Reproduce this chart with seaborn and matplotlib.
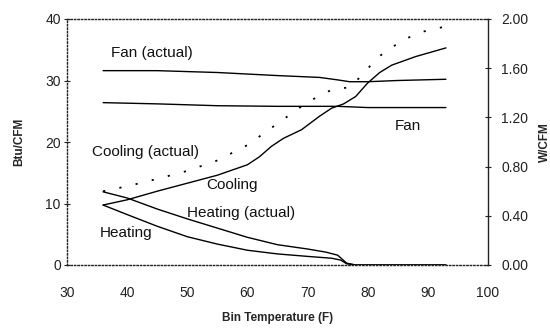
import matplotlib
matplotlib.use("Agg")
import matplotlib.pyplot as plt
import seaborn as sns

sns.set_theme(style="white")
plt.rcParams['font.family'] = ['Liberation Sans', 'DejaVu Sans']

# Left axis (Btu/CFM)
cool_x = [36, 40, 45, 50, 55, 60, 62, 64, 66, 69, 72, 74, 76, 78, 80, 82, 84, 88, 93]
cool_y = [9.75, 10.6, 12.0, 13.3, 14.6, 16.3, 17.6, 19.3, 20.6, 22.0, 24.2, 25.5, 26.2, 27.4, 29.6, 31.3, 32.5, 33.9, 35.3]

coolact_x = [36, 40, 45, 50, 55, 60, 65, 70, 74, 77, 79, 81.6, 84, 86.6, 89, 93]
coolact_y = [12.0, 12.8, 14.0, 15.3, 17.0, 19.5, 23.0, 26.5, 28.5, 28.9, 30.8, 33.7, 35.4, 36.9, 37.9, 38.8]

heat_x = [36, 40, 45, 50, 55, 60, 65, 70, 74, 75.5, 76.5, 78, 85, 93]
heat_y = [9.75, 8.2, 6.3, 4.6, 3.4, 2.4, 1.8, 1.4, 1.1, 0.8, 0.2, 0.0, 0.0, 0.0]

heatact_x = [36, 40, 45, 50, 55, 60, 65, 70, 73, 75, 76.5, 78, 85, 93]
heatact_y = [11.9, 10.9, 9.1, 7.5, 6.0, 4.5, 3.3, 2.6, 2.1, 1.6, 0.3, 0.0, 0.0, 0.0]

# Right axis (W/CFM)
fan_x = [36, 45, 55, 65, 70, 75, 80, 93]
fan_y = [1.32, 1.31, 1.295, 1.29, 1.29, 1.29, 1.28, 1.28]

fanact_x = [36, 45, 55, 65, 72, 75, 77, 80, 85, 93]
fanact_y = [1.58, 1.58, 1.565, 1.54, 1.525, 1.505, 1.49, 1.49, 1.50, 1.51]

x_ticks = [30, 40, 50, 60, 70, 80, 90, 100]
left_ticks = [0, 10, 20, 30, 40]
right_ticks = [0.0, 0.4, 0.8, 1.2, 1.6, 2.0]

fig = plt.figure(figsize=(5.5, 3.32), dpi=100)
ax = fig.add_axes([67/550, 1-265/332, (488-67)/550, (265-19)/332])
ax2 = ax.twinx()

lw = 1.0
sns.lineplot(x=cool_x, y=cool_y, ax=ax, color='black', lw=lw)
sns.lineplot(x=coolact_x, y=coolact_y, ax=ax, color='black', lw=1.3, dashes=False,
             linestyle=(0, (1.2, 8)))
sns.lineplot(x=heat_x, y=heat_y, ax=ax, color='black', lw=lw)
sns.lineplot(x=heatact_x, y=heatact_y, ax=ax, color='black', lw=lw)
sns.lineplot(x=fan_x, y=fan_y, ax=ax2, color='black', lw=lw)
sns.lineplot(x=fanact_x, y=fanact_y, ax=ax2, color='black', lw=lw)

ax.set_xlim(30, 100)
ax.set_ylim(0, 40)
ax2.set_ylim(0, 2.0)
ax.set_xticks(x_ticks)
ax.set_yticks(left_ticks)
ax2.set_yticks(right_ticks)
ax2.set_yticklabels([f"{v:.2f}" for v in right_ticks])

for a in (ax, ax2):
    for s in a.spines.values():
        s.set_visible(False)
for side in ('left', 'top', 'bottom'):
    ax.spines[side].set_visible(True)
    ax.spines[side].set_linestyle((0, (1, 1.5)))
    ax.spines[side].set_linewidth(1.0)
    ax.spines[side].set_color('#222222')
ax2.spines['right'].set_visible(True)
ax2.spines['right'].set_color('#222222')
ax2.spines['right'].set_linewidth(1.0)

ax.tick_params(axis='x', direction='in', length=3, width=0.8, colors='#222222', labelsize=10, pad=15)
ax.tick_params(axis='y', direction='inout', length=5, width=0.8, colors='#222222', labelsize=10, pad=2)
ax2.tick_params(axis='y', direction='inout', length=5, width=0.8, colors='#222222', labelsize=10, pad=7)
for lab in ax.get_xticklabels() + ax.get_yticklabels() + ax2.get_yticklabels():
    lab.set_color('#222222')

ax.set_xlabel('Bin Temperature (F)', fontsize=8.5, fontweight='bold', labelpad=9)
ax.set_ylabel('Btu/CFM', fontsize=8.5, fontweight='bold', labelpad=14)
ax2.set_ylabel('W/CFM', fontsize=8.5, fontweight='bold', labelpad=8)

tk = dict(fontsize=11, color='#111111', va='center', ha='left')
ax.text(37.3, 34.5, 'Fan (actual)', **tk)
ax.text(84.5, 22.6, 'Fan', **tk)
ax.text(34.2, 18.4, 'Cooling (actual)', **tk)
ax.text(53.2, 13.0, 'Cooling', **tk)
ax.text(50.0, 8.5, 'Heating (actual)', **tk)
ax.text(35.5, 5.2, 'Heating', **tk)

fig.savefig('out.png', dpi=100)
